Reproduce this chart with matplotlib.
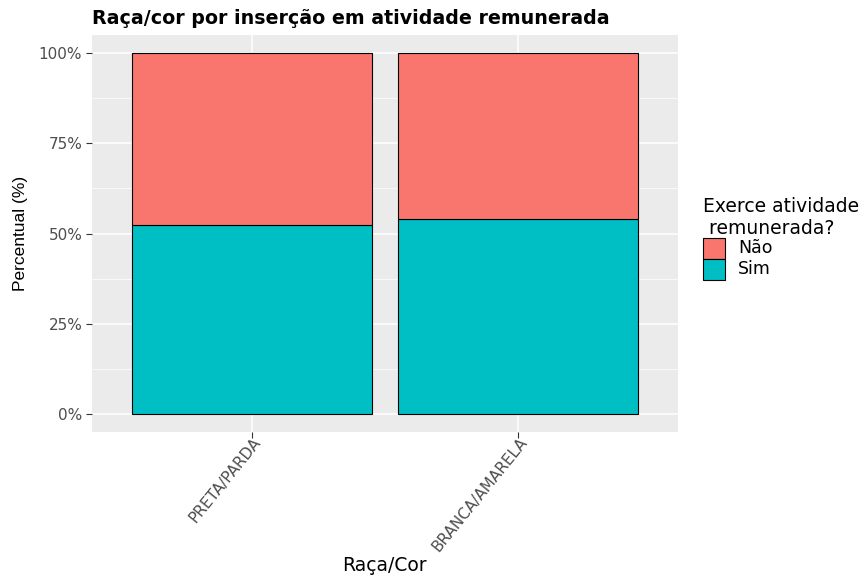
import numpy as np
import matplotlib.pyplot as plt
from matplotlib.patches import Patch

categories = ["PRETA/PARDA", "BRANCA/AMARELA"]
sim = [52.4, 54.1]
nao = [47.6, 45.9]
series_labels = ["Não", "Sim"]
colors = {"Não": "#F8766D", "Sim": "#00BFC4"}
yticks = [0, 25, 50, 75, 100]
ytick_labels = ["0%", "25%", "50%", "75%", "100%"]

# the reference looks stretched sideways, DejaVu is a bit wider than Arial
plt.rcParams["font.family"] = ["DejaVu Sans"]

fig = plt.figure(figsize=(8.67, 5.75), dpi=100)
W, H = 867, 575
ax = fig.add_axes([92 / W, 1 - 432 / H, (678 - 92) / W, (432 - 35) / H])
ax.set_facecolor("#EBEBEB")

x = np.arange(1, len(categories) + 1)
ax.bar(x, sim, width=0.9, color=colors["Sim"], edgecolor="black", linewidth=0.8, zorder=3)
ax.bar(x, nao, bottom=sim, width=0.9, color=colors["Não"], edgecolor="black", linewidth=0.8, zorder=3)

ax.set_xlim(0.4, len(categories) + 0.6)
ax.set_ylim(-5, 105)
ax.set_yticks(yticks)
ax.set_yticklabels(ytick_labels)
ax.set_yticks([12.5, 37.5, 62.5, 87.5], minor=True)
ax.set_xticks(x)
ax.set_xticklabels(categories, rotation=51, ha="right", va="top",
                   rotation_mode="anchor")

ax.grid(True, which="major", color="white", linewidth=1.1, zorder=0)
ax.grid(True, which="minor", axis="y", color="white", linewidth=0.5, zorder=0)
for s in ax.spines.values():
    s.set_visible(False)
ax.tick_params(axis="both", which="major", length=4, color="#333333",
               labelcolor="#4D4D4D", labelsize=11, pad=3)
ax.tick_params(axis="x", which="major", labelsize=11, pad=-2)
ax.tick_params(axis="y", which="minor", length=0)

fig.text(384 / W, 1 - 571 / H, "Raça/Cor", fontsize=13.5, ha="center", va="baseline")
ax.set_ylabel("Percentual (%)", fontsize=12.5, labelpad=8, family="Liberation Sans")
ax.set_title("Raça/cor por inserção em atividade remunerada", loc="left",
             fontsize=13.7, fontweight="bold", pad=8)

handles = [Patch(facecolor=colors[l], edgecolor="black", linewidth=0.8) for l in series_labels]
leg = fig.legend(handles, series_labels, title="Exerce atividade\n remunerada?",
                 loc="upper left", bbox_to_anchor=(703 / W, 1 - 197 / H),
                 frameon=False, fontsize=11, title_fontsize=13.5,
                 handlelength=1.44, handleheight=1.73, handletextpad=0.85,
                 labelspacing=0.0, borderaxespad=0, borderpad=0)
leg._legend_box.align = "left"
for t in leg.get_texts():
    t.set_fontsize(12.5)

fig.savefig("out.png", dpi=100)
